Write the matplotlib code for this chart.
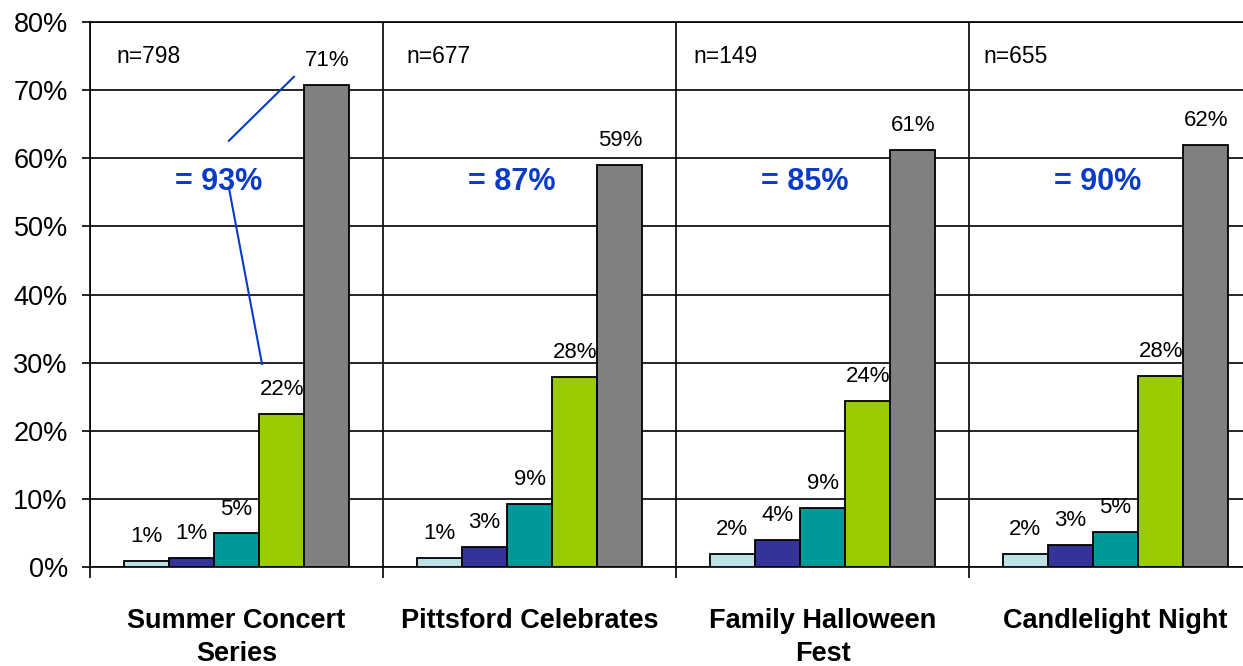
import numpy as np
import matplotlib
matplotlib.use("Agg")
import matplotlib.pyplot as plt

plt.rcParams['font.family'] = ['Liberation Sans', 'DejaVu Sans']

# events along the x axis
events = ["Summer Concert\nSeries", "Pittsford Celebrates",
          "Family Halloween\nFest", "Candlelight Night"]
sample_sizes = [798, 677, 149, 655]
top_two = ["= 93%", "= 87%", "= 85%", "= 90%"]

# share of respondents per rating, one list per rating level
rating1 = [0.8, 1.3, 1.9, 1.9]
rating2 = [1.3, 2.9, 4.0, 3.2]
rating3 = [4.9, 9.2, 8.7, 5.1]
rating4 = [22.4, 27.9, 24.3, 28.1]
rating5 = [70.8, 59.0, 61.2, 62.0]

series = [rating1, rating2, rating3, rating4, rating5]
colors = ['#BCE2E5', '#333399', '#009999', '#99CC00', '#808080']
blue = '#0A3BC8'

fig = plt.figure(figsize=(12.43, 6.66), dpi=100)
ax = fig.add_axes([0.0724, 0.149, 0.943, 0.8175])

x = np.arange(len(events))
bw = 0.154
for k, (vals, c) in enumerate(zip(series, colors)):
    pos = x + (k - 2) * bw
    ax.bar(pos, vals, bw, color=c, edgecolor='black', linewidth=1.3, zorder=3)
    for xp, v in zip(pos, vals):
        ax.annotate(f"{v:.0f}%", (xp, v), xytext=(0, 10), textcoords='offset points',
                    ha='center', va='bottom', fontsize=16, zorder=4)

ax.set_xlim(-0.5, len(events) - 0.5)
ax.set_ylim(0, 80)
ax.set_yticks(np.arange(0, 81, 10))
ax.set_yticklabels([f"{t}%" for t in range(0, 81, 10)], fontsize=19.5)
ax.tick_params(axis='y', length=6, width=1.2, pad=10)

ax.set_xticks(x)
ax.set_xticklabels(events, fontsize=19.5, fontweight='bold', linespacing=1.35)
ax.set_xticks(np.arange(-0.5, len(events), 1), minor=True)
ax.tick_params(axis='x', which='major', length=0, pad=30)
ax.tick_params(axis='x', which='minor', length=8, width=1.2)

ax.grid(axis='y', which='major', color='black', linewidth=1.2, zorder=1)
ax.grid(axis='x', which='minor', color='black', linewidth=1.2, zorder=1)
for s in ax.spines.values():
    s.set_linewidth(1.2)
ax.spines['right'].set_visible(False)

n_offsets = [0.09, 0.08, 0.06, 0.05]
for i in range(len(events)):
    ax.text(i - 0.5 + n_offsets[i], 75, f"n={sample_sizes[i]}", fontsize=16.5,
            ha='left', va='center')
    ax.text(i - 0.06, 56.6, top_two[i], fontsize=22, fontweight='bold',
            color=blue, ha='center', va='center', zorder=4)

# connector lines from the sum to the two top bars
ax.plot([-0.026, 0.196], [62.6, 72.0], color=blue, linewidth=1.5, zorder=4)
ax.plot([-0.026, 0.087], [55.7, 29.8], color=blue, linewidth=1.5, zorder=4)

fig.savefig("out.png", dpi=100)
